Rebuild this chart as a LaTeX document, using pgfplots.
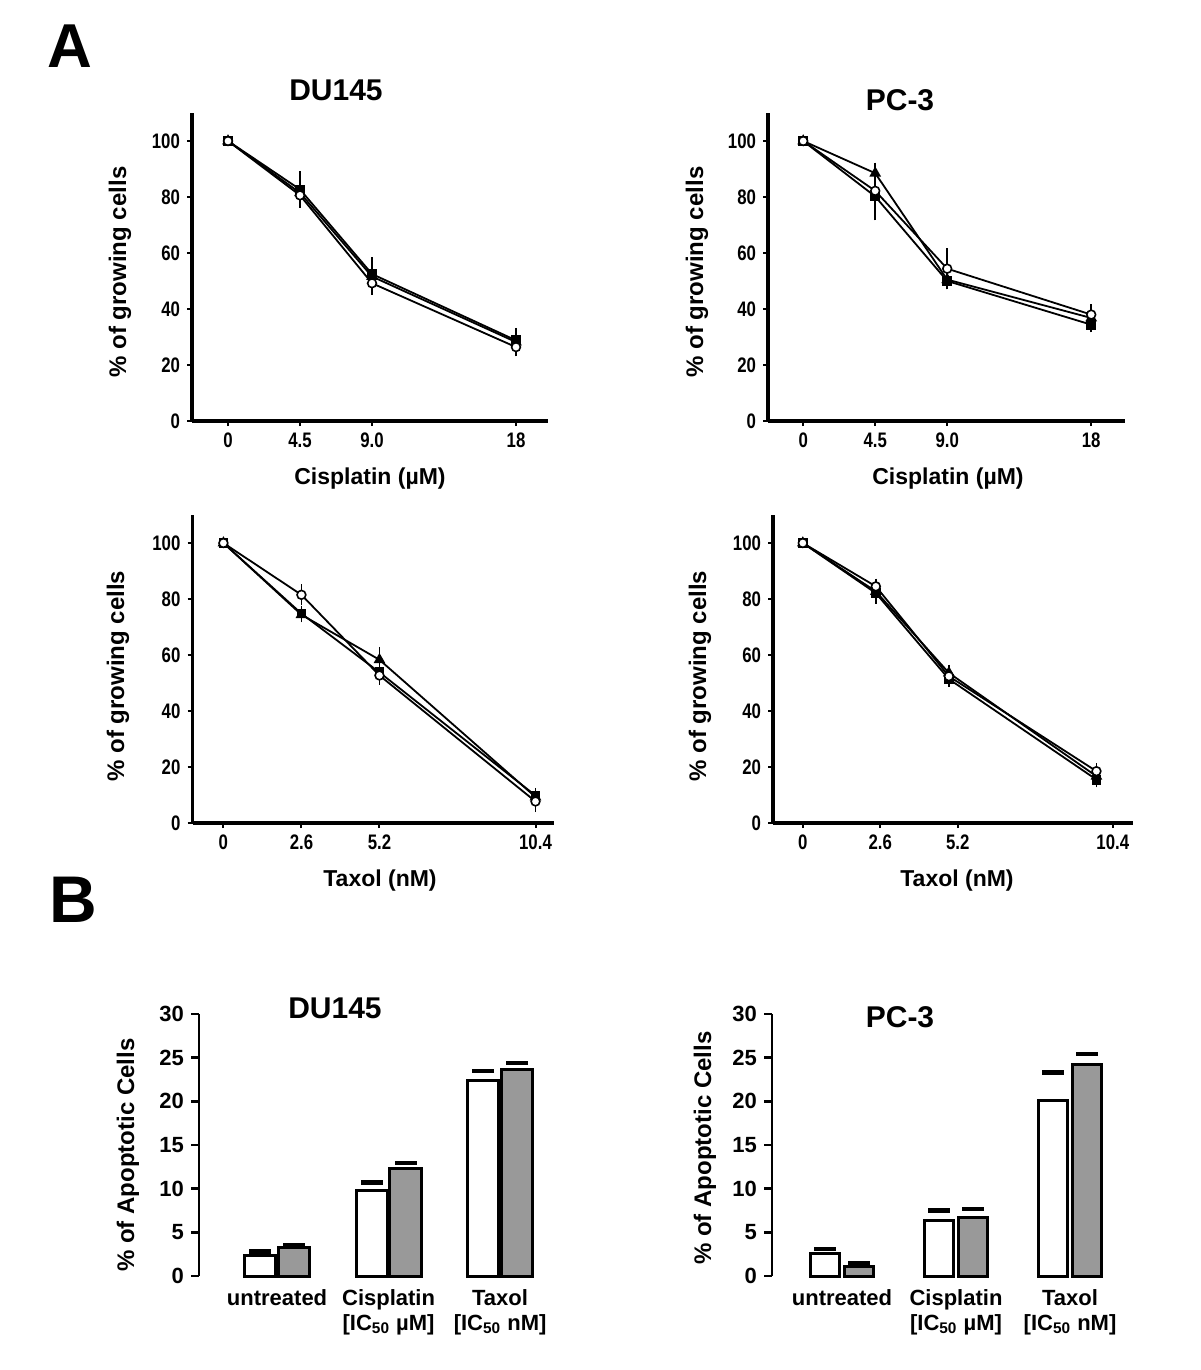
\documentclass[border=0pt]{standalone}
\usepackage{fontspec}
\setmainfont{Liberation Sans}
\newfontfamily\narrowfont[FakeStretch=0.8]{Liberation Sans}
\usepackage{pgfplots}
\pgfplotsset{compat=1.18}

\pgfplotsset{
 linechart/.style={
  scale only axis, anchor=south west,
  axis x line*=bottom, axis y line*=left,
  axis line style={line width=1.6pt,-},
  tick align=outside,
  major tick length=2.5pt,
  tick style={line width=1pt,black},
  ymin=0, ymax=110, ytick={0,20,...,100},
  height=154pt,
  /pgf/number format/assume math mode=true,
  tick label style={font=\narrowfont\bfseries\fontsize{10.5}{12}\selectfont},
  clip=false,
 },
 errs/.style={error bars/y dir=both, error bars/y explicit,
   error bars/error bar style={line width=0.8pt,black},
   error bars/error mark options={mark size=2.5pt,line width=0.8pt,black}},
 sqp/.style={black, line width=0.9pt, mark=square*, mark size=2pt, mark options={solid,fill=black}, errs},
 trp/.style={black, line width=0.9pt, mark=triangle*, mark size=2.5pt, mark options={solid,fill=black}, errs},
 ocp/.style={black, line width=0.9pt, mark=*, mark size=2.2pt, mark options={solid,fill=white,line width=0.8pt}, errs},
 barchart/.style={
  scale only axis, anchor=south west,
  axis x line*=bottom, axis y line*=left,
  x axis line style={draw=none},
  y axis line style={line width=1.3pt,-},
  xtick style={draw=none},
  ytick style={line width=1.2pt,black},
  tick align=outside, major tick length=4pt,
  ymin=0, ymax=30, ytick={0,5,...,30},
  height=131pt, xtick={0,1,2},
  xticklabels={untreated,{Cisplatin\\{}[IC\textsubscript{50} µM]},{Taxol\\{}[IC\textsubscript{50} nM]}},
  xticklabel style={align=center, font=\bfseries\fontsize{11}{12.5}\selectfont, yshift=1pt},
  yticklabel style={font=\bfseries\fontsize{11}{13}\selectfont},
  /pgf/number format/assume math mode=true,
  clip=false,
 },
 whitebar/.style={ybar, fill=white, draw=black, line width=1.5pt},
 greybar/.style={ybar, fill=black!40, draw=black, line width=1.5pt},
 caps/.style={only marks, mark=-, mark size=5.5pt, mark options={line width=2.1pt, black}},
}

\begin{document}
\begin{tikzpicture}
\useasboundingbox (0,0) rectangle (600pt,-685pt);

% ---------- A: DU145 cisplatin ----------
\begin{axis}[linechart, at={(96pt,-210.5pt)}, width=178pt,
  xmin=-2.25, xmax=20, xtick={0,4.5,9,18}, xticklabels={0,4.5,9.0,18}]
\addplot[trp] coordinates {(0,100) +- (0,0) (4.5,81.5) +- (0,1) (9,51.6) +- (0,1) (18,28.2) +- (0,1)};
\addplot[sqp] coordinates {(0,100) +- (0,0) (4.5,82.7) +- (0,4.8) (9,52.5) +- (0,4.2) (18,28.8) +- (0,2.7)};
\addplot[ocp] coordinates {(0,100) +- (0,0) (4.5,80.6) +- (0,1.2) (9,49.2) +- (0,2.4) (18,26.4) +- (0,1.5)};
\end{axis}

% ---------- A: PC-3 cisplatin ----------
\begin{axis}[linechart, at={(384pt,-210.5pt)}, width=178.4pt,
  xmin=-2.2, xmax=20.1, xtick={0,4.5,9,18}, xticklabels={0,4.5,9.0,18}]
\addplot[trp] coordinates {(0,100) +- (0,0) (4.5,88.5) +- (0,2) (9,50.5) +- (0,1) (18,36.8) +- (0,1)};
\addplot[sqp] coordinates {(0,100) +- (0,0) (4.5,80.2) +- (0,6.8) (9,50.0) +- (0,1.2) (18,34.4) +- (0,1)};
\addplot[ocp] coordinates {(0,100) +- (0,0) (4.5,82.2) +- (0,1) (9,54.4) +- (0,5.6) (18,38) +- (0,2)};
\end{axis}

% ---------- A: DU145 taxol ----------
\begin{axis}[linechart, at={(96.25pt,-411.5pt)}, width=180.5pt,
  xmin=-1.03, xmax=11.0, xtick={0,2.6,5.2,10.4}, xticklabels={0,2.6,5.2,10.4}]
\addplot[trp] coordinates {(0,100) +- (0,0) (2.6,74.4) +- (0,1) (5.2,58.3) +- (0,2.8) (10.4,9.3) +- (0,1)};
\addplot[sqp] coordinates {(0,100) +- (0,0) (2.6,74.8) +- (0,1) (5.2,53.8) +- (0,1) (10.4,9.8) +- (0,1)};
\addplot[ocp] coordinates {(0,100) +- (0,0) (2.6,81.5) +- (0,2) (5.2,52.7) +- (0,1.5) (10.4,7.7) +- (0,2)};
\end{axis}

% ---------- A: PC-3 taxol ----------
\begin{axis}[linechart, at={(386.5pt,-411.5pt)}, width=179.9pt,
  xmin=-1.0, xmax=11.07, xtick={0,2.6,5.2,10.4}, xticklabels={0,2.6,5.2,10.4}]
\addplot[trp] coordinates {(0,100) +- (0,0) (2.45,82.7) +- (0,1) (4.9,53.6) +- (0,1.2) (9.85,16.7) +- (0,1)};
\addplot[sqp] coordinates {(0,100) +- (0,0) (2.45,82.1) +- (0,2) (4.9,51.4) +- (0,1) (9.85,15.5) +- (0,1)};
\addplot[ocp] coordinates {(0,100) +- (0,0) (2.45,84.5) +- (0,1) (4.9,52.4) +- (0,1) (9.85,18.5) +- (0,1)};
\end{axis}

% ---------- B: DU145 apoptosis ----------
\begin{axis}[barchart, at={(99.5pt,-638pt)}, width=184pt, xmin=-0.70, xmax=2.6]
\addplot[whitebar, bar width=0.28, bar shift=-0.152] coordinates {(0,2.4) (1,9.8) (2,22.4)};
\addplot[greybar, bar width=0.28, bar shift=0.152] coordinates {(0,3.25) (1,12.3) (2,23.6)};
\addplot[caps] coordinates {(-0.152,2.8) (0.848,10.7) (1.848,23.5)};
\addplot[caps] coordinates {(0.152,3.55) (1.152,12.95) (2.152,24.35)};
\end{axis}

% ---------- B: PC-3 apoptosis ----------
\begin{axis}[barchart, at={(386pt,-638pt)}, width=183.2pt, xmin=-0.614, xmax=2.6]
\addplot[whitebar, bar width=0.26, bar shift=-0.15] coordinates {(0,2.6) (1,6.35) (2,20.15)};
\addplot[greybar, bar width=0.26, bar shift=0.15] coordinates {(0,1.07) (1,6.7) (2,24.25)};
\addplot[caps] coordinates {(-0.15,3.05) (0.85,7.5) (1.85,23.3)};
\addplot[caps] coordinates {(0.15,1.45) (1.15,7.7) (2.15,25.4)};
\end{axis}

% ---------- text ----------
\node[font=\bfseries\fontsize{31}{34}\selectfont] at (35pt,-23pt) {A};
\node[font=\bfseries\fontsize{33}{36}\selectfont] at (36.5pt,-450pt) {B};
\node[font=\bfseries\fontsize{15}{18}\selectfont] at (168pt,-45pt) {DU145};
\node[font=\bfseries\fontsize{15}{18}\selectfont] at (450pt,-50pt) {PC-3};
\node[font=\bfseries\fontsize{15}{18}\selectfont] at (167.5pt,-504pt) {DU145};
\node[font=\bfseries\fontsize{15}{18}\selectfont] at (450pt,-508.5pt) {PC-3};

\node[rotate=90,font=\bfseries\fontsize{12}{14}\selectfont] at (60pt,-136pt) {\% of growing cells};
\node[rotate=90,font=\bfseries\fontsize{12}{14}\selectfont] at (348.5pt,-136pt) {\% of growing cells};
\node[rotate=90,font=\bfseries\fontsize{12}{14}\selectfont] at (59pt,-338pt) {\% of growing cells};
\node[rotate=90,font=\bfseries\fontsize{12}{14}\selectfont] at (350pt,-338pt) {\% of growing cells};

\node[font=\bfseries\fontsize{11.5}{14}\selectfont] at (185pt,-239.5pt) {Cisplatin (µM)};
\node[font=\bfseries\fontsize{11.5}{14}\selectfont] at (474pt,-239.5pt) {Cisplatin (µM)};
\node[font=\bfseries\fontsize{11.5}{14}\selectfont] at (190pt,-440.5pt) {Taxol (nM)};
\node[font=\bfseries\fontsize{11.5}{14}\selectfont] at (478.5pt,-440.5pt) {Taxol (nM)};

\node[rotate=90,font=\bfseries\fontsize{12}{14}\selectfont] at (64pt,-577.5pt) {\% of Apoptotic Cells};
\node[rotate=90,font=\bfseries\fontsize{12}{14}\selectfont] at (352.5pt,-574pt) {\% of Apoptotic Cells};
\end{tikzpicture}
\end{document}
